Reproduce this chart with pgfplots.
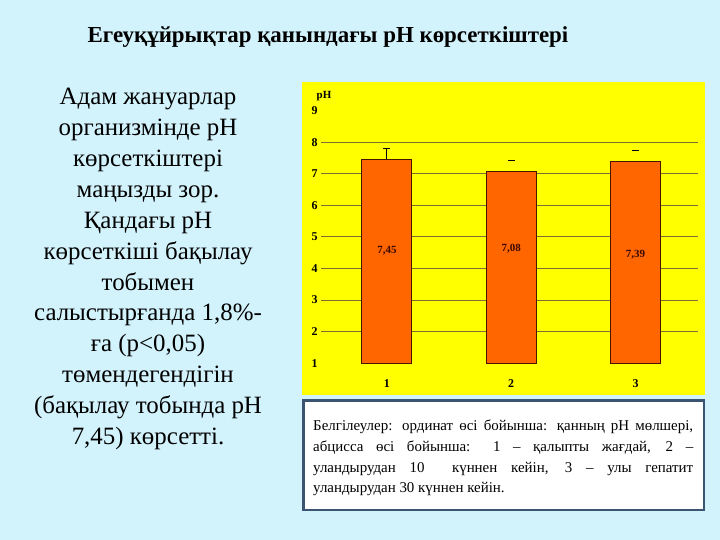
\documentclass[border=0pt]{standalone}
\usepackage{fontspec}
\setmainfont{Liberation Serif}
\usepackage{pgfplots}
\pgfplotsset{compat=1.18}

\definecolor{bgcyan}{HTML}{D2F2FC}
\definecolor{chartyellow}{HTML}{FFFF00}
\definecolor{barorange}{HTML}{FF6600}
\definecolor{bardark}{HTML}{4A1500}
\definecolor{gridcol}{HTML}{7A7030}
\definecolor{boxblue}{HTML}{3B5472}
\definecolor{labelcol}{HTML}{3A0800}

\begin{document}
\begin{tikzpicture}
% slide background
\fill[bgcyan] (0,0) rectangle (720bp,540bp);
\fill[chartyellow] (302bp,145bp) rectangle (705bp,458bp);
\filldraw[fill=white, draw=boxblue, line width=2.5bp] (303.5bp,30bp) rectangle (704bp,139.5bp);

% title
\node[font=\bfseries\fontsize{23}{27}\selectfont, anchor=center] at (328bp,503bp)
  {Егеуқұйрықтар қанындағы рН көрсеткіштері};

% left text
\node[font=\fontsize{25}{31}\selectfont, align=center, anchor=center] at (148bp,271bp)
  {Адам жануарлар\\организмінде рН\\көрсеткіштері\\маңызды зор.\\Қандағы рН\\көрсеткіші бақылау\\тобымен\\салыстырғанда 1,8\%-\\ға (p<0,05)\\төмендегендігін\\(бақылау тобында рН\\7,45) көрсетті.};

% caption
\node[font=\fontsize{15}{20.7}\selectfont, text width=380bp, align=justify, anchor=north west, inner sep=0pt]
  at (313bp,120bp)
  {Белгілеулер: ординат өсі бойынша: қанның рН мөлшері,\linebreak
   абцисса өсі бойынша: 1 -- қалыпты жағдай, 2 --\linebreak
   уландырудан 10 \ күннен кейін, 3 -- улы гепатит\linebreak
   уландырудан 30 күннен кейін.};

% y unit
\node[font=\bfseries\fontsize{11}{11}\selectfont, anchor=center] at (324bp,444bp) {pH};

\begin{axis}[
  at={(321bp,176.7bp)}, anchor=south west,
  scale only axis, width=376.7bp, height=252.8bp,
  xmin=0.47, xmax=3.5, ymin=1, ymax=9,
  axis line style={draw=none},
  major tick length=0pt,
  xtick={1,2,3},
  ytick={2,...,8},
  extra y ticks={1,9},
  extra y tick style={grid=none},
  ymajorgrids,
  grid style={gridcol, line width=0.8bp},
  /pgf/number format/assume math mode=true,
  ticklabel style={font=\bfseries\fontsize{12}{12}\selectfont},
  xticklabel style={yshift=-13bp},
]
% control group with its error bar
\addplot[ybar, bar shift=0pt, bar width=50bp, fill=barorange, draw=bardark, line width=0.8bp,
  error bars/.cd, y dir=plus, y explicit,
  error bar style={black, line width=0.8bp},
  error mark options={rotate=90, black, mark size=3.5bp, line width=0.8bp}]
  coordinates {(1,7.45) +- (0,0.35)};
% groups 2 and 3
\addplot[ybar, bar shift=0pt, bar width=50bp, fill=barorange, draw=bardark, line width=0.8bp]
  coordinates {(2,7.08) (3,7.39)};
% caps only, as drawn in the source
\addplot[only marks, mark=-, mark size=3.5bp, mark options={black, line width=0.8bp}]
  coordinates {(2,7.41) (3,7.74)};
\node[font=\bfseries\fontsize{11}{11}\selectfont, text=labelcol] at (axis cs:1,4.56) {7,45};
\node[font=\bfseries\fontsize{11}{11}\selectfont, text=labelcol] at (axis cs:2,4.62) {7,08};
\node[font=\bfseries\fontsize{11}{11}\selectfont, text=labelcol] at (axis cs:3,4.43) {7,39};
\end{axis}
\end{tikzpicture}
\end{document}
